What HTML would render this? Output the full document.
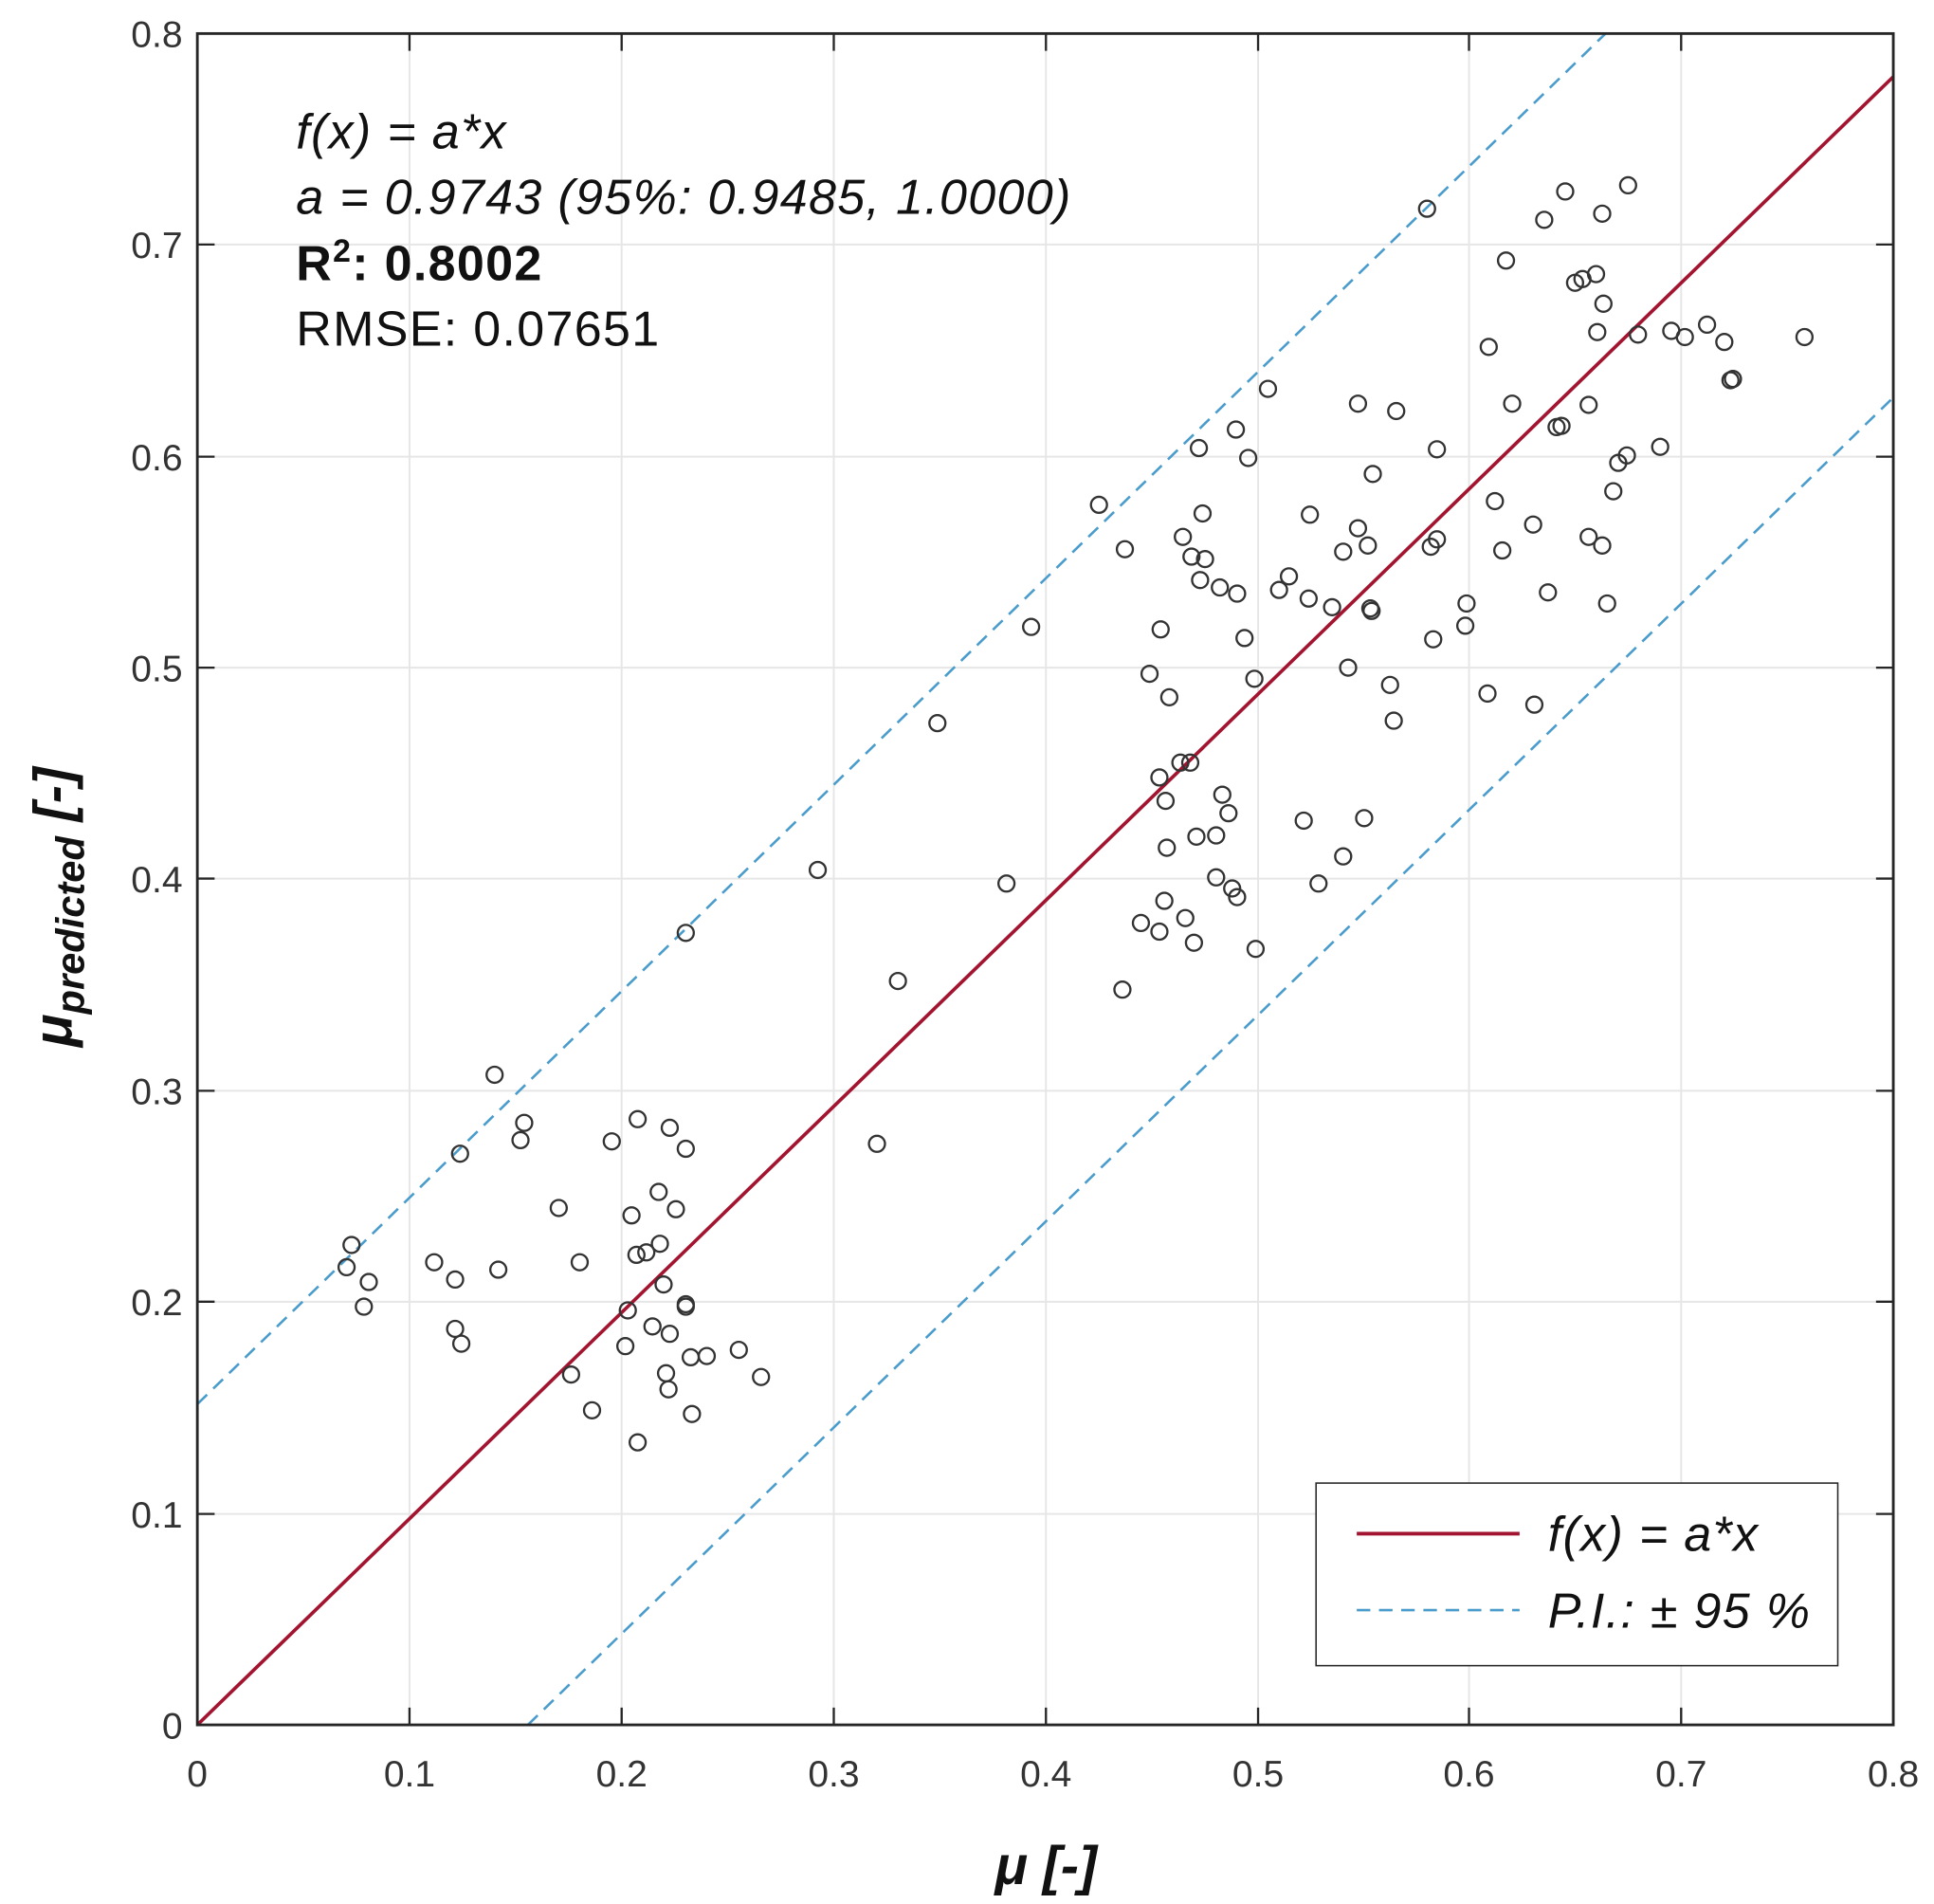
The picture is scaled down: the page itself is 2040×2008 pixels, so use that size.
<!DOCTYPE html>
<html><head><meta charset="utf-8"><style>html,body{margin:0;padding:0;background:#fff}svg{display:block}</style></head>
<body>
<svg xmlns="http://www.w3.org/2000/svg" width="2040" height="2008" viewBox="0 0 1568 1543" font-family="Liberation Sans, sans-serif">
<rect width="1568" height="1543" fill="#fff"/>
<g stroke="#e6e6e6" stroke-width="1.5">
<line x1="332" y1="27" x2="332" y2="1398"/><line x1="504" y1="27" x2="504" y2="1398"/><line x1="676" y1="27" x2="676" y2="1398"/><line x1="848" y1="27" x2="848" y2="1398"/><line x1="1020" y1="27" x2="1020" y2="1398"/><line x1="1191" y1="27" x2="1191" y2="1398"/><line x1="1363" y1="27" x2="1363" y2="1398"/>
<line x1="160" y1="1227" x2="1535" y2="1227"/><line x1="160" y1="1055" x2="1535" y2="1055"/><line x1="160" y1="884" x2="1535" y2="884"/><line x1="160" y1="712" x2="1535" y2="712"/><line x1="160" y1="541" x2="1535" y2="541"/><line x1="160" y1="370" x2="1535" y2="370"/><line x1="160" y1="198" x2="1535" y2="198"/>
</g>
<defs><clipPath id="c"><rect x="160" y="27" width="1375" height="1371"/></clipPath></defs>
<g clip-path="url(#c)">
<line x1="160" y1="1138" x2="1535" y2="-200" stroke="#4a9ccc" stroke-width="2" stroke-dasharray="11,7"/>
<line x1="428" y1="1398" x2="1535" y2="322" stroke="#4a9ccc" stroke-width="2" stroke-dasharray="11,7"/>
<line x1="160" y1="1398" x2="1535" y2="62" stroke="#a2142f" stroke-width="2.8"/>
</g>
<g fill="none" stroke="#333" stroke-width="1.8">
<circle cx="285" cy="1009" r="6.5"/><circle cx="281" cy="1027" r="6.5"/><circle cx="299" cy="1039" r="6.5"/><circle cx="295" cy="1059" r="6.5"/><circle cx="401" cy="871" r="6.5"/><circle cx="425" cy="910" r="6.5"/><circle cx="422" cy="924" r="6.5"/><circle cx="373" cy="935" r="6.5"/><circle cx="352" cy="1023" r="6.5"/><circle cx="369" cy="1037" r="6.5"/><circle cx="404" cy="1029" r="6.5"/><circle cx="369" cy="1077" r="6.5"/><circle cx="374" cy="1089" r="6.5"/><circle cx="453" cy="979" r="6.5"/><circle cx="470" cy="1023" r="6.5"/><circle cx="496" cy="925" r="6.5"/><circle cx="517" cy="907" r="6.5"/><circle cx="543" cy="914" r="6.5"/><circle cx="556" cy="931" r="6.5"/><circle cx="534" cy="966" r="6.5"/><circle cx="548" cy="980" r="6.5"/><circle cx="512" cy="985" r="6.5"/><circle cx="516" cy="1017" r="6.5"/><circle cx="524" cy="1015" r="6.5"/><circle cx="535" cy="1008" r="6.5"/><circle cx="538" cy="1041" r="6.5"/><circle cx="509" cy="1062" r="6.5"/><circle cx="556" cy="1057" r="6.5"/><circle cx="556" cy="1059" r="6.5"/><circle cx="529" cy="1075" r="6.5"/><circle cx="543" cy="1081" r="6.5"/><circle cx="507" cy="1091" r="6.5"/><circle cx="463" cy="1114" r="6.5"/><circle cx="480" cy="1143" r="6.5"/><circle cx="540" cy="1113" r="6.5"/><circle cx="542" cy="1126" r="6.5"/><circle cx="560" cy="1100" r="6.5"/><circle cx="573" cy="1099" r="6.5"/><circle cx="599" cy="1094" r="6.5"/><circle cx="617" cy="1116" r="6.5"/><circle cx="561" cy="1146" r="6.5"/><circle cx="517" cy="1169" r="6.5"/><circle cx="556" cy="756" r="6.5"/><circle cx="663" cy="705" r="6.5"/><circle cx="728" cy="795" r="6.5"/><circle cx="711" cy="927" r="6.5"/><circle cx="760" cy="586" r="6.5"/><circle cx="816" cy="716" r="6.5"/><circle cx="836" cy="508" r="6.5"/>
<circle cx="891" cy="409" r="6.5"/><circle cx="912" cy="445" r="6.5"/><circle cx="941" cy="510" r="6.5"/><circle cx="932" cy="546" r="6.5"/><circle cx="948" cy="565" r="6.5"/><circle cx="959" cy="435" r="6.5"/><circle cx="966" cy="451" r="6.5"/><circle cx="973" cy="470" r="6.5"/><circle cx="977" cy="453" r="6.5"/><circle cx="975" cy="416" r="6.5"/><circle cx="989" cy="476" r="6.5"/><circle cx="1003" cy="481" r="6.5"/><circle cx="1002" cy="348" r="6.5"/><circle cx="1012" cy="371" r="6.5"/><circle cx="972" cy="363" r="6.5"/><circle cx="957" cy="618" r="6.5"/><circle cx="965" cy="618" r="6.5"/><circle cx="940" cy="630" r="6.5"/><circle cx="945" cy="649" r="6.5"/><circle cx="946" cy="687" r="6.5"/><circle cx="970" cy="678" r="6.5"/><circle cx="986" cy="677" r="6.5"/><circle cx="991" cy="644" r="6.5"/><circle cx="996" cy="659" r="6.5"/><circle cx="986" cy="711" r="6.5"/><circle cx="999" cy="720" r="6.5"/><circle cx="1003" cy="727" r="6.5"/><circle cx="944" cy="730" r="6.5"/><circle cx="925" cy="748" r="6.5"/><circle cx="940" cy="755" r="6.5"/><circle cx="961" cy="744" r="6.5"/><circle cx="968" cy="764" r="6.5"/><circle cx="910" cy="802" r="6.5"/><circle cx="1018" cy="769" r="6.5"/><circle cx="1017" cy="550" r="6.5"/><circle cx="1009" cy="517" r="6.5"/><circle cx="1028" cy="315" r="6.5"/><circle cx="1037" cy="478" r="6.5"/><circle cx="1045" cy="467" r="6.5"/><circle cx="1061" cy="485" r="6.5"/><circle cx="1062" cy="417" r="6.5"/><circle cx="1080" cy="492" r="6.5"/><circle cx="1089" cy="447" r="6.5"/><circle cx="1093" cy="541" r="6.5"/><circle cx="1101" cy="428" r="6.5"/><circle cx="1109" cy="442" r="6.5"/><circle cx="1111" cy="493" r="6.5"/><circle cx="1113" cy="384" r="6.5"/><circle cx="1101" cy="327" r="6.5"/><circle cx="1132" cy="333" r="6.5"/><circle cx="1112" cy="495" r="6.5"/><circle cx="1127" cy="555" r="6.5"/><circle cx="1130" cy="584" r="6.5"/><circle cx="1057" cy="665" r="6.5"/><circle cx="1069" cy="716" r="6.5"/><circle cx="1089" cy="694" r="6.5"/><circle cx="1106" cy="663" r="6.5"/><circle cx="1157" cy="169" r="6.5"/><circle cx="1165" cy="364" r="6.5"/><circle cx="1160" cy="443" r="6.5"/><circle cx="1165" cy="437" r="6.5"/><circle cx="1162" cy="518" r="6.5"/><circle cx="1189" cy="489" r="6.5"/><circle cx="1188" cy="507" r="6.5"/><circle cx="1207" cy="281" r="6.5"/><circle cx="1221" cy="211" r="6.5"/><circle cx="1226" cy="327" r="6.5"/><circle cx="1212" cy="406" r="6.5"/><circle cx="1218" cy="446" r="6.5"/><circle cx="1206" cy="562" r="6.5"/><circle cx="1243" cy="425" r="6.5"/><circle cx="1244" cy="571" r="6.5"/><circle cx="1255" cy="480" r="6.5"/><circle cx="1252" cy="178" r="6.5"/><circle cx="1269" cy="155" r="6.5"/><circle cx="1277" cy="229" r="6.5"/><circle cx="1283" cy="226" r="6.5"/><circle cx="1299" cy="173" r="6.5"/><circle cx="1320" cy="150" r="6.5"/><circle cx="1294" cy="222" r="6.5"/><circle cx="1300" cy="246" r="6.5"/><circle cx="1295" cy="269" r="6.5"/><circle cx="1288" cy="328" r="6.5"/><circle cx="1262" cy="346" r="6.5"/><circle cx="1266" cy="345" r="6.5"/><circle cx="1288" cy="435" r="6.5"/><circle cx="1299" cy="442" r="6.5"/><circle cx="1303" cy="489" r="6.5"/><circle cx="1308" cy="398" r="6.5"/><circle cx="1312" cy="375" r="6.5"/><circle cx="1319" cy="369" r="6.5"/><circle cx="1328" cy="271" r="6.5"/><circle cx="1346" cy="362" r="6.5"/><circle cx="1355" cy="268" r="6.5"/><circle cx="1366" cy="273" r="6.5"/><circle cx="1384" cy="263" r="6.5"/><circle cx="1398" cy="277" r="6.5"/><circle cx="1403" cy="308" r="6.5"/><circle cx="1405" cy="307" r="6.5"/><circle cx="1463" cy="273" r="6.5"/>
</g>
<rect x="160" y="27" width="1375" height="1371" fill="none" stroke="#262626" stroke-width="2.2"/>
<g stroke="#262626" stroke-width="1.8">
<path d="M332 1398v-14M504 1398v-14M676 1398v-14M848 1398v-14M1020 1398v-14M1191 1398v-14M1363 1398v-14M332 27v14M504 27v14M676 27v14M848 27v14M1020 27v14M1191 27v14M1363 27v14"/>
<path d="M160 1227h14M160 1055h14M160 884h14M160 712h14M160 541h14M160 370h14M160 198h14M1535 1227h-14M1535 1055h-14M1535 884h-14M1535 712h-14M1535 541h-14M1535 370h-14M1535 198h-14"/>
</g>
<g font-size="30" fill="#333" text-anchor="middle">
<text x="160" y="1448">0</text><text x="332" y="1448">0.1</text><text x="504" y="1448">0.2</text><text x="676" y="1448">0.3</text><text x="848" y="1448">0.4</text><text x="1020" y="1448">0.5</text><text x="1191" y="1448">0.6</text><text x="1363" y="1448">0.7</text><text x="1535" y="1448">0.8</text>
</g>
<g font-size="30" fill="#333" text-anchor="end">
<text x="148" y="1409">0</text><text x="148" y="1238">0.1</text><text x="148" y="1066">0.2</text><text x="148" y="895">0.3</text><text x="148" y="723">0.4</text><text x="148" y="552">0.5</text><text x="148" y="381">0.6</text><text x="148" y="209">0.7</text><text x="148" y="38">0.8</text>
</g>
<text x="848" y="1527" font-size="44" font-weight="bold" font-style="italic" text-anchor="middle" fill="#111">μ [-]</text>
<text transform="translate(58,735) rotate(-90)" font-size="44" font-weight="bold" font-style="italic" text-anchor="middle" fill="#111">μ<tspan font-size="32" dy="10">predicted</tspan><tspan dy="-10"> [-]</tspan></text>
<g font-size="40" fill="#111" letter-spacing="1">
<text x="240" y="120" font-style="italic">f(x) = a*x</text>
<text x="240" y="173" font-style="italic">a = 0.9743 (95%: 0.9485, 1.0000)</text>
<text x="240" y="227" font-weight="bold">R<tspan font-size="26" dy="-15">2</tspan><tspan dy="15">: 0.8002</tspan></text>
<text x="240" y="280">RMSE: 0.07651</text>
</g>
<rect x="1067" y="1202" width="423" height="148" fill="#fff" stroke="#262626" stroke-width="1.2"/>
<line x1="1100" y1="1243" x2="1232" y2="1243" stroke="#a2142f" stroke-width="3"/>
<line x1="1100" y1="1305" x2="1232" y2="1305" stroke="#4a9ccc" stroke-width="2" stroke-dasharray="11,7"/>
<g font-size="40" font-style="italic" fill="#111" letter-spacing="1">
<text x="1255" y="1257">f(x) = a*x</text>
<text x="1255" y="1319">P.I.: ± 95 %</text>
</g>
</svg>
</body></html>
